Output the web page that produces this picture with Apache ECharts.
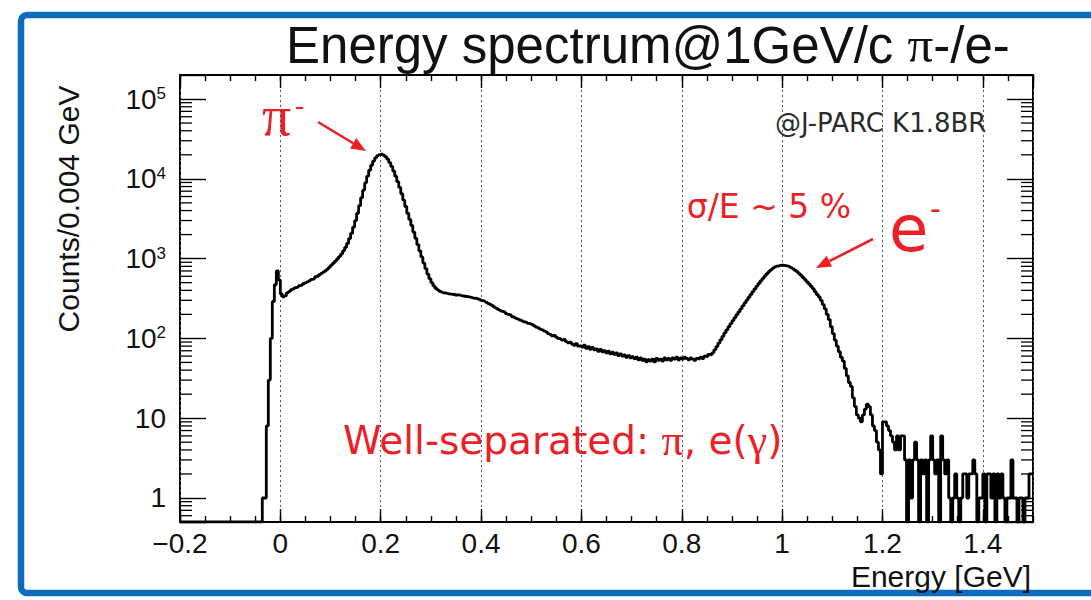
<!DOCTYPE html>
<html>
<head>
<meta charset="utf-8">
<title>Energy spectrum@1GeV/c π-/e-</title>
<script src="https://cdn.jsdelivr.net/npm/echarts@6/dist/echarts.min.js"></script>
<style>
  html, body { margin: 0; padding: 0; background: #ffffff; }
  #chart { width: 1091px; height: 600px; }
</style>
</head>
<body>
<div id="chart"></div>
<script>
// Histogram binning: counts per 0.004 GeV, first bin starts at -0.2 GeV
const BIN_LOW = -0.2;
const BIN_WIDTH = 0.004;

// -0.2 ... -0.004 GeV
const countsBelowZero = [
  0, 0, 0, 0, 0, 0, 0, 0, 0, 0, 0, 0, 0, 0, 0, 0, 0, 0, 0, 0, 0, 0, 0, 0, 0,
  0, 0, 0, 0, 0, 0, 0, 0, 0, 0, 0, 0, 0, 0, 0, 0, 1, 1, 8, 30, 100, 290, 470, 700, 540
];
// 0 ... 0.396 GeV (pion peak)
const countsPionPeak = [
  360, 332, 341, 372, 386, 408, 417, 433, 441, 458, 466, 484, 497, 512, 527, 548, 556, 588, 601, 628, 652, 676, 704, 738, 781,
  830, 880, 930, 990, 1060, 1140, 1250, 1380, 1550, 1780, 2080, 2480, 3000, 3700, 4600, 5800, 7200, 8900, 10800, 12800, 14800, 16700, 18300, 19500, 20100,
  20500, 19800, 18900, 17600, 16000, 14300, 12500, 10800, 9200, 7800, 6500, 5400, 4500, 3700, 3100, 2600, 2150, 1800, 1500, 1250, 1050, 880, 750, 640, 560,
  500, 455, 425, 405, 390, 380, 372, 368, 362, 360, 355, 358, 350, 352, 345, 340, 342, 335, 332, 328, 322, 318, 320, 312, 305
];
// 0.4 ... 0.896 GeV (plateau between the peaks)
const countsPlateau = [
  298, 292, 285, 275, 268, 260, 248, 240, 232, 225, 218, 214, 205, 200, 196, 188, 184, 178, 174, 170, 166, 161, 158, 154, 151,
  148, 144, 139, 136, 131, 128, 124, 121, 115, 112, 108, 110, 104, 100, 98, 95, 97, 91, 88, 90, 85, 82, 86, 80, 81,
  78, 82, 75, 79, 73, 77, 72, 74, 69, 73, 68, 70, 66, 69, 64, 67, 63, 66, 61, 64, 60, 62, 58, 61, 57,
  59, 56, 58, 54, 57, 53, 55, 51, 54, 52, 55, 51, 56, 53, 55, 52, 57, 54, 56, 53, 57, 55, 58, 54, 57,
  55, 58, 56, 54, 57, 55, 53, 56, 55, 58, 56, 60, 59, 63, 62, 66, 72, 79, 87, 96, 106, 117, 128, 140, 153
];
// 0.9 ... 1.196 GeV (electron peak)
const countsElectronPeak = [
  167, 182, 198, 215, 234, 255, 278, 302, 328, 356, 386, 418, 452, 488, 526, 566, 606, 646, 686, 724, 758, 786, 806, 820, 826,
  825, 818, 805, 790, 770, 745, 715, 685, 650, 615, 580, 545, 510, 480, 450, 420, 385, 355, 330, 300, 265, 235, 200, 172, 140,
  115, 95, 80, 68, 58, 52, 42, 34, 28, 25, 18, 14, 11, 10, 9, 11, 13, 15, 14, 11, 8, 7, 5, 4, 2
];
// 1.2 ... 1.496 GeV (tail)
const countsTail = [
  9, 9, 8, 7, 6, 5, 4, 6, 4, 6, 6, 3, 0, 3, 1, 3, 5, 3, 0, 3, 2, 3, 0, 3, 6,
  3, 2, 3, 0, 6, 3, 2, 3, 1, 0, 1, 2, 1, 0, 1, 2, 2, 1, 2, 2, 3, 2, 0, 1, 1,
  2, 0, 2, 2, 1, 2, 0, 2, 1, 2, 1, 0, 1, 1, 3, 1, 1, 0, 1, 1, 0, 1, 1, 2, 2
];

// Axis ranges and tick values
const X_MIN = -0.2, X_MAX = 1.5;
const Y_MIN = 0.5, Y_MAX = 2e5;
const yMinorTicks = [
  0.6, 0.7, 0.8, 0.9,
  2, 3, 4, 5, 6, 7, 8, 9,
  20, 30, 40, 50, 60, 70, 80, 90,
  200, 300, 400, 500, 600, 700, 800, 900,
  2000, 3000, 4000, 5000, 6000, 7000, 8000, 9000,
  20000, 30000, 40000, 50000, 60000, 70000, 80000, 90000
];

const SANS = '"Liberation Sans", Arial, Helvetica, sans-serif';
const SERIF = '"Liberation Serif", "Times New Roman", serif';
const WIDE = '"DejaVu Sans", Verdana, sans-serif';
const RED = '#ec1f26';
const INK = '#111111';

const counts = [].concat(countsBelowZero, countsPionPeak, countsPlateau, countsElectronPeak, countsTail);
// step points at bin low edges; empty bins sit on the axis floor
const histData = counts.map((c, i) => [BIN_LOW + i * BIN_WIDTH, Math.max(c, Y_MIN)]);
histData.push([BIN_LOW + counts.length * BIN_WIDTH, Math.max(counts[counts.length - 1], Y_MIN)]);

function xLabel(v) {
  const s = String(+Math.abs(v).toFixed(1));
  return (v < -1e-9 ? '\u2212' : '') + s;
}
function yLabel(v) {
  const p = Math.log10(v);
  const n = Math.round(p);
  if (Math.abs(p - n) > 1e-6) return '';
  if (n === 0) return '1';
  if (n === 1) return '10';
  return '10{sup|' + n + '}';
}

const tickStyle = { color: '#000', width: 1.4 };
function xAxisDef(position, interval, tickLen, withLabels) {
  return {
    type: 'value', position: position, min: X_MIN, max: X_MAX, interval: interval,
    axisLine: { show: false, onZero: false },
    axisTick: { show: true, inside: true, length: tickLen, lineStyle: tickStyle },
    axisLabel: withLabels ? {
      show: true, margin: 9, fontSize: 28, lineHeight: 24, fontFamily: SANS, color: INK,
      showMaxLabel: false, formatter: xLabel
    } : { show: false },
    splitLine: withLabels ? { show: true, lineStyle: { color: '#555', width: 1, type: [2, 3] } } : { show: false }
  };
}
function yAxisDef(position, withLabels) {
  return {
    type: 'log', logBase: 10, position: position, min: Y_MIN, max: Y_MAX,
    axisLine: { show: false, onZero: false },
    axisTick: { show: true, inside: true, length: 26, lineStyle: tickStyle },
    axisLabel: withLabels ? {
      show: true, margin: 14, fontSize: 28, fontFamily: SANS, color: INK,
      formatter: yLabel,
      rich: { sup: { fontSize: 17, fontFamily: SANS, color: INK, verticalAlign: 'top', lineHeight: 16 } }
    } : { show: false },
    splitLine: { show: false }
  };
}

function arrow(x1, y1, x2, y2) {
  const a = Math.atan2(y2 - y1, x2 - x1), L = 15, W = 6;
  const bx = x2 - L * Math.cos(a), by = y2 - L * Math.sin(a);
  const nx = -Math.sin(a), ny = Math.cos(a);
  return [
    { type: 'line', shape: { x1: x1, y1: y1, x2: bx, y2: by }, style: { stroke: RED, lineWidth: 2.6 } },
    { type: 'polygon', shape: { points: [[x2, y2], [bx + nx * W, by + ny * W], [bx - nx * W, by - ny * W]] }, style: { fill: RED } }
  ];
}

const chart = echarts.init(document.getElementById('chart'), null, { renderer: 'svg' });
chart.setOption({
  animation: false,
  backgroundColor: '#ffffff',
  grid: {
    left: 180, right: 58, top: 75, bottom: 78,
    containLabel: false,
    show: true, borderColor: '#000', borderWidth: 2, backgroundColor: 'transparent'
  },
  xAxis: [
    xAxisDef('bottom', 0.2, 13, true),
    xAxisDef('bottom', 0.05, 6, false),
    xAxisDef('top', 0.2, 13, false),
    xAxisDef('top', 0.05, 6, false)
  ],
  yAxis: [
    yAxisDef('left', true),
    yAxisDef('right', false)
  ],
  series: [
    {
      name: 'Energy', type: 'line', xAxisIndex: 0, yAxisIndex: 0,
      data: histData, step: 'end', showSymbol: false, symbol: 'none',
      lineStyle: { color: '#000', width: 2.8 }, z: 10, silent: true
    },
    {
      name: 'minor ticks', type: 'custom', xAxisIndex: 0, yAxisIndex: 0, silent: true, z: 4,
      data: yMinorTicks.map(v => [X_MIN, v]),
      encode: { x: 0, y: 1 },
      renderItem: function (params, api) {
        const v = api.value(1);
        const l = api.coord([X_MIN, v]);
        const r = api.coord([X_MAX, v]);
        const st = { stroke: '#000', lineWidth: 1.3 };
        return {
          type: 'group',
          children: [
            { type: 'line', shape: { x1: l[0], y1: l[1], x2: l[0] + 12, y2: l[1] }, style: st },
            { type: 'line', shape: { x1: r[0] - 12, y1: r[1], x2: r[0], y2: r[1] }, style: st }
          ]
        };
      }
    }
  ],
  graphic: [
    // slide frame
    { type: 'rect', shape: { x: 21, y: 15, width: 1100, height: 578, r: 6 },
      style: { fill: 'none', stroke: '#0b6cc0', lineWidth: 6.5 }, z: 0 },
    // title
    { type: 'text', x: 286, y: 45, style: {
      text: 'Energy spectrum@1GeV/c {pi|\u03c0}-/e-', fontSize: 51, fontFamily: SANS, fill: '#111',
      align: 'left', verticalAlign: 'middle',
      rich: { pi: { fontSize: 51, fontFamily: SERIF, fill: '#111' } } } },
    // axis titles
    { type: 'text', x: 68, y: 209, rotation: Math.PI / 2, style: {
      text: 'Counts/0.004 GeV', fontSize: 30, fontFamily: SANS, fill: INK, align: 'center', verticalAlign: 'middle' } },
    { type: 'text', x: 1031, y: 576, style: {
      text: 'Energy [GeV]', fontSize: 30, lineHeight: 28, fontFamily: SANS, fill: INK, align: 'right', verticalAlign: 'middle' } },
    // facility tag
    { type: 'text', x: 775, y: 123, style: {
      text: '@J-PARC K1.8BR', fontSize: 26, fontFamily: WIDE, fill: '#2a2a2a', align: 'left', verticalAlign: 'middle' } },
    // peak labels
    { type: 'text', x: 262, y: 115, style: {
      text: '\u03c0', fontSize: 58, fontFamily: SERIF, fill: RED, align: 'left', verticalAlign: 'middle' } },
    { type: 'text', x: 295, y: 104, style: {
      text: '-', fontSize: 28, fontFamily: SERIF, fill: RED, align: 'left', verticalAlign: 'middle' } },
    { type: 'text', x: 889, y: 229, style: {
      text: 'e', fontSize: 64, fontFamily: WIDE, fill: RED, align: 'left', verticalAlign: 'middle' } },
    { type: 'text', x: 930, y: 208, style: {
      text: '-', fontSize: 30, fontFamily: WIDE, fill: RED, align: 'left', verticalAlign: 'middle' } },
    { type: 'text', x: 769, y: 206, style: {
      text: '\u03c3/E ~ 5 %', fontSize: 33, fontFamily: WIDE, fill: RED, align: 'center', verticalAlign: 'middle' } },
    { type: 'text', x: 343, y: 440, style: {
      text: 'Well-separated: {g|\u03c0}, e({g|\u03b3})', fontSize: 39, fontFamily: WIDE, fill: RED,
      align: 'left', verticalAlign: 'middle',
      rich: { g: { fontSize: 44, fontFamily: SERIF, fill: RED } } } }
  ].concat(arrow(318, 122, 366, 151), arrow(873, 239, 816, 268))
});
</script>
</body>
</html>
